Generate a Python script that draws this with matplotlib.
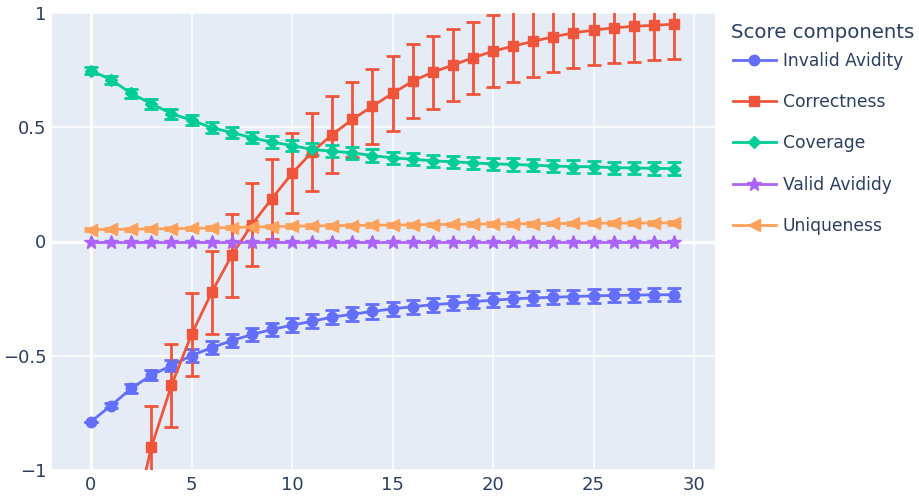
import matplotlib
matplotlib.use("Agg")
import matplotlib.pyplot as plt

steps = list(range(30))

invalid_avidity = [-0.788, -0.718, -0.643, -0.585, -0.543, -0.499, -0.465, -0.434,
                   -0.407, -0.385, -0.366, -0.349, -0.331, -0.318, -0.306, -0.295,
                   -0.285, -0.277, -0.270, -0.263, -0.257, -0.251, -0.247, -0.244,
                   -0.241, -0.238, -0.236, -0.235, -0.233, -0.233]
invalid_avidity_err = [0.0, 0.012, 0.018, 0.022, 0.025, 0.027, 0.028, 0.029, 0.030,
                       0.030, 0.031, 0.031, 0.031, 0.031, 0.031, 0.031, 0.031, 0.031,
                       0.030, 0.030, 0.030, 0.030, 0.030, 0.030, 0.030, 0.029, 0.029,
                       0.029, 0.029, 0.029]

correctness = [-2.30, -1.75, -1.28, -0.901, -0.630, -0.407, -0.223, -0.061, 0.074,
               0.188, 0.298, 0.392, 0.468, 0.534, 0.592, 0.648, 0.702, 0.741, 0.772,
               0.804, 0.833, 0.855, 0.876, 0.896, 0.913, 0.925, 0.935, 0.942, 0.946,
               0.951]
correctness_err = [0.18, 0.18, 0.18, 0.18, 0.18, 0.18, 0.18, 0.18, 0.18, 0.175, 0.175,
                   0.17, 0.17, 0.165, 0.165, 0.163, 0.163, 0.16, 0.159, 0.158, 0.158,
                   0.155, 0.155, 0.155, 0.155, 0.152, 0.152, 0.155, 0.153, 0.153]

coverage = [0.748, 0.708, 0.648, 0.603, 0.560, 0.531, 0.498, 0.477, 0.454, 0.435,
            0.420, 0.403, 0.395, 0.388, 0.376, 0.366, 0.360, 0.353, 0.349, 0.344,
            0.340, 0.337, 0.334, 0.330, 0.328, 0.327, 0.323, 0.322, 0.320, 0.319]
coverage_err = [0.015, 0.017, 0.019, 0.021, 0.022, 0.023, 0.024, 0.025, 0.025, 0.026,
                0.026, 0.026, 0.027, 0.027, 0.027, 0.027, 0.027, 0.027, 0.027, 0.027,
                0.027, 0.027, 0.027, 0.027, 0.027, 0.027, 0.027, 0.027, 0.027, 0.027]

valid_avidity = [0.0, 0.0, 0.0, 0.0, 0.0, 0.0, 0.0, 0.0, 0.0, 0.0,
                 0.0, 0.0, 0.0, 0.0, 0.0, 0.0, 0.0, 0.0, 0.0, 0.0,
                 0.0, 0.0, 0.0, 0.0, 0.0, 0.0, 0.0, 0.0, 0.0, 0.0]

uniqueness = [0.052, 0.053, 0.054, 0.055, 0.056, 0.057, 0.059, 0.061, 0.063, 0.065,
              0.067, 0.068, 0.069, 0.070, 0.071, 0.072, 0.073, 0.074, 0.075, 0.076,
              0.077, 0.077, 0.078, 0.079, 0.079, 0.080, 0.080, 0.081, 0.081, 0.082]
uniqueness_err = [0.006, 0.006, 0.006, 0.007, 0.007, 0.007, 0.007, 0.008, 0.008, 0.008,
                  0.008, 0.008, 0.008, 0.008, 0.008, 0.008, 0.008, 0.008, 0.008, 0.008,
                  0.008, 0.008, 0.008, 0.008, 0.008, 0.008, 0.008, 0.008, 0.008, 0.008]

series = [
    ("Invalid Avidity", invalid_avidity, invalid_avidity_err, "#636EFA", "o", 7.5),
    ("Correctness", correctness, correctness_err, "#EF553B", "s", 7.5),
    ("Coverage", coverage, coverage_err, "#00CC96", "D", 6.5),
    ("Valid Avididy", valid_avidity, None, "#AB63FA", "*", 10),
    ("Uniqueness", uniqueness, uniqueness_err, "#FFA15A", "<", 8),
]

text_color = "#2a3f5f"
plt.rcParams["font.family"] = ["DejaVu Sans"]

fig = plt.figure(figsize=(9.2, 4.97), dpi=100)
ax = fig.add_axes([52 / 920, 1 - 470 / 497, 663 / 920, 457 / 497])
ax.set_facecolor("#E5ECF6")

handles = []
for name, values, errors, color, marker, size in series:
    if errors is not None:
        ax.errorbar(
            steps,
            values,
            yerr=errors,
            fmt="none",
            ecolor=color,
            elinewidth=2,
            capsize=5,
            capthick=2,
            zorder=3
        )
    line, = ax.plot(
        steps,
        values,
        color=color,
        marker=marker,
        markersize=size,
        linewidth=2,
        label=name,
        zorder=4
    )
    handles.append(line)

ax.set_xlim(-1.94, 31.04)
ax.set_ylim(-1, 1)
ax.set_xticks([0, 5, 10, 15, 20, 25, 30])
ax.set_yticks([-1, -0.5, 0, 0.5, 1])
ax.set_yticklabels(["\u22121", "\u22120.5", "0", "0.5", "1"])

ax.grid(True, color="white", linewidth=1.1, zorder=0)
ax.set_axisbelow(True)
ax.axhline(0, color="white", linewidth=2.2, zorder=1)
ax.axvline(0, color="white", linewidth=2.2, zorder=1)

for spine in ax.spines.values():
    spine.set_visible(False)

ax.tick_params(length=0, labelsize=13, labelcolor=text_color, pad=4)

# legend title drawn on its own so the gap to the first entry can be set
fig.text(
    731 / 920,
    1 - 32 / 497,
    "Score components",
    fontsize=14.2,
    color=text_color,
    ha="left",
    va="center"
)

fig.legend(
    handles=handles,
    loc="upper left",
    bbox_to_anchor=(733 / 920, 1 - 52 / 497),
    frameon=False,
    fontsize=12.3,
    handlelength=2.5,
    handletextpad=0.4,
    labelspacing=1.36,
    borderaxespad=0,
    borderpad=0,
    labelcolor=text_color
)

fig.savefig("out.png", dpi=100)
